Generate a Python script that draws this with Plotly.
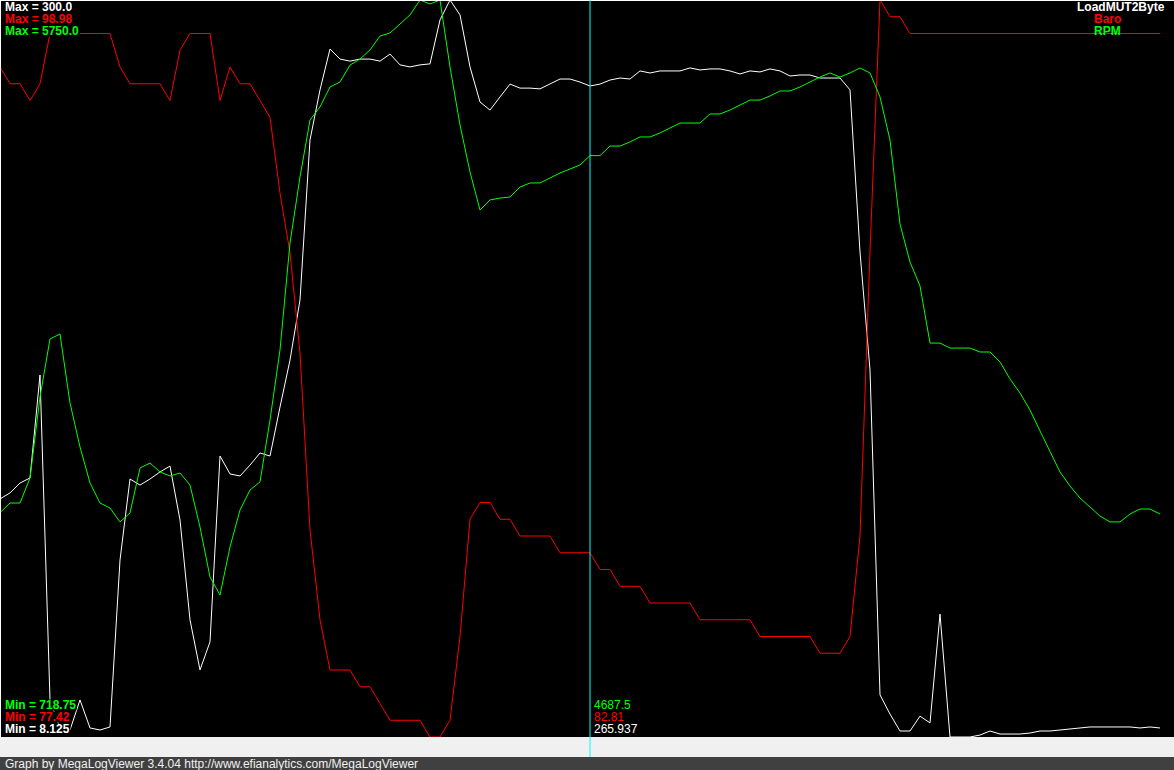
import plotly.graph_objects as go

# ---- data (one log sample every step) ----
sample = list(range(117))

load_mut2byte = [
    102.4, 104.8, 108.7, 110.7, 151.5, 22.8, 11.7, 10.9, 22.8, 11.7,
    10.9, 12.1, 78.2, 110.3, 107.9, 110.3, 113.1, 115.4, 94.1, 54.5,
    34.7, 45.8, 119.4, 112.3, 111.5, 115.8, 120.6, 119.4, 138.8, 157.4,
    181.2, 244.6, 264.4, 280.6, 276.6, 275.8, 276.6, 276.6, 275.8, 278.6,
    274.3, 273.5, 274.3, 274.7, 292.1, 300.0, 294.1, 273.5, 259.6, 256.4,
    261.6, 266.7, 265.1, 265.1, 264.8, 266.7, 268.7, 268.7, 267.5, 265.937,
    266.7, 268.3, 269.1, 268.7, 271.9, 271.1, 271.9, 271.9, 271.9, 273.1,
    272.3, 272.7, 272.7, 271.9, 270.7, 271.9, 271.5, 272.7, 271.9, 269.9,
    270.3, 270.3, 269.1, 269.1, 269.1, 264.4, 200.2, 153.5, 24.8, 17.2,
    10.5, 10.5, 16.4, 13.7, 56.8, 8.125, 8.125, 8.125, 8.9, 10.5,
    9.3, 9.3, 9.3, 9.7, 10.5, 10.5, 10.9, 11.3, 11.7, 12.1,
    12.1, 12.1, 12.1, 12.1, 11.7, 12.1, 11.7,
]

baro = [
    97.02, 96.53, 96.53, 96.04, 96.53, 98.00, 98.00, 98.00, 98.00, 98.00,
    98.00, 98.00, 97.02, 96.53, 96.53, 96.53, 96.53, 96.04, 97.51, 98.00,
    98.00, 98.00, 96.04, 97.02, 96.53, 96.53, 96.04, 95.55, 93.33, 91.58,
    88.65, 83.48, 80.85, 79.38, 79.38, 79.38, 78.89, 78.89, 78.40, 77.91,
    77.91, 77.91, 77.91, 77.42, 77.42, 77.91, 80.36, 83.79, 84.28, 84.28,
    83.79, 83.79, 83.30, 83.30, 83.30, 83.30, 82.81, 82.81, 82.81, 82.81,
    82.32, 82.32, 81.83, 81.83, 81.83, 81.34, 81.34, 81.34, 81.34, 81.34,
    80.85, 80.85, 80.85, 80.85, 80.85, 80.85, 80.36, 80.36, 80.36, 80.36,
    80.36, 80.36, 79.87, 79.87, 79.87, 80.36, 83.30, 91.63, 98.98, 98.49,
    98.49, 98.00, 98.00, 98.00, 98.00, 98.00, 98.00, 98.00, 98.00, 98.00,
    98.00, 98.00, 98.00, 98.00, 98.00, 98.00, 98.00, 98.00, 98.00, 98.00,
    98.00, 98.00, 98.00, 98.00, 98.00, 98.00, 98.00,
]

rpm = [
    2250, 2316, 2316, 2487, 3040, 3436, 3470, 2999, 2699, 2453,
    2316, 2282, 2187, 2248, 2555, 2589, 2528, 2501, 2521, 2439,
    2152, 1811, 1688, 2016, 2268, 2405, 2460, 2883, 3361, 4091,
    4542, 4931, 5020, 5156, 5190, 5306, 5347, 5409, 5504, 5525,
    5586, 5648, 5750, 5723, 5750, 5293, 4897, 4576, 4316, 4385,
    4398, 4405, 4473, 4501, 4501, 4535, 4569, 4596, 4624, 4687.5,
    4688, 4753, 4753, 4781, 4815, 4815, 4842, 4876, 4910, 4910,
    4910, 4972, 4972, 4999, 5033, 5067, 5067, 5095, 5129, 5129,
    5156, 5190, 5224, 5252, 5224, 5252, 5286, 5252, 5088, 4794,
    4221, 3961, 3798, 3408, 3408, 3374, 3374, 3374, 3347, 3347,
    3279, 3163, 3067, 2951, 2808, 2664, 2528, 2432, 2350, 2289,
    2227, 2187, 2187, 2241, 2275, 2275, 2241,
]

series_names = ["LoadMUT2Byte", "Baro", "RPM"]
load_range = [8.125, 300.0]
baro_range = [77.42, 98.98]
rpm_range = [718.75, 5750.0]
cursor_index = 59
cursor_texts = ["4687.5", "82.81", "265.937"]
footer = "Graph by MegaLogViewer 3.4.04 http://www.efianalytics.com/MegaLogViewer"

# ---- figure ----
W, H = 1174, 770
PLOT_H = 737
FOOT_H = 13
WHITE, RED, GREEN, CYAN = "#ffffff", "#ff0000", "#00ff00", "#00ffff"
FONT = "Liberation Sans, Arial, sans-serif"

fig = go.Figure()
fig.add_trace(go.Scatter(x=sample, y=rpm, yaxis="y3", mode="lines",
                         line=dict(color=GREEN, width=1), name=series_names[2]))
fig.add_trace(go.Scatter(x=sample, y=baro, yaxis="y2", mode="lines",
                         line=dict(color=RED, width=1), name=series_names[1]))
fig.add_trace(go.Scatter(x=sample, y=load_mut2byte, yaxis="y", mode="lines",
                         line=dict(color=WHITE, width=1), name=series_names[0]))

dom = [(H - PLOT_H) / H, 1]
hidden = dict(visible=False, showgrid=False, zeroline=False, fixedrange=True)
fig.update_layout(
    width=W, height=H,
    margin=dict(l=0, r=0, t=0, b=0, pad=0),
    paper_bgcolor="#f0f0f0", plot_bgcolor="#000000",
    showlegend=False,
    xaxis=dict(range=[0, W / 10.0], **hidden),
    yaxis=dict(range=load_range, domain=dom, **hidden),
    yaxis2=dict(range=baro_range, overlaying="y", **hidden),
    yaxis3=dict(range=rpm_range, overlaying="y", **hidden),
)


def px(x):
    return x / W


def py(y):
    return 1 - y / H


shapes = [
    # footer bar
    dict(type="rect", xref="paper", yref="paper", x0=0, x1=1, y0=0, y1=FOOT_H / H,
         fillcolor="#404040", line=dict(width=0), layer="below"),
    # plot border (top / left)
    dict(type="line", xref="paper", yref="paper", x0=0, x1=1, y0=py(0.5), y1=py(0.5),
         line=dict(color=WHITE, width=1)),
    dict(type="line", xref="paper", yref="paper", x0=px(0.5), x1=px(0.5), y0=py(PLOT_H), y1=1,
         line=dict(color=WHITE, width=1)),
    # cursor
    dict(type="line", xref="x", yref="paper", x0=cursor_index, x1=cursor_index,
         y0=FOOT_H / H, y1=1, line=dict(color=CYAN, width=1)),
]
fig.update_layout(shapes=shapes)

ann = []


def label(text, x, y, color, anchor="left", bold=True, bg=None, size=12):
    d = dict(text=("<b>%s</b>" % text) if bold else text, x=px(x), y=py(y),
             xref="paper", yref="paper", xanchor=anchor, yanchor="middle",
             showarrow=False, borderpad=0,
             font=dict(family=FONT, size=size, color=color))
    if bg:
        d["bgcolor"] = bg
        d["height"] = 10
        d["valign"] = "middle"
    ann.append(d)


# max labels (top-left)
label("Max = %.1f" % load_range[1], 4, 7, WHITE, bg="#000000")
label("Max = %.2f" % baro_range[1], 4, 18.5, RED, bg="#000000")
label("Max = %.1f" % rpm_range[1], 4, 30.5, GREEN, bg="#000000")
# min labels (bottom-left)
label("Min = %.2f" % rpm_range[0], 4, 704.5, GREEN, bg="#000000")
label("Min = %.2f" % baro_range[0], 4, 716.5, RED, bg="#000000")
label("Min = %.3f" % load_range[0], 4, 728.5, WHITE, bg="#000000")
# series names (top-right)
label(series_names[0], 1166, 7, WHITE, anchor="right")
label(series_names[1], 1093, 18.5, RED)
label(series_names[2], 1093, 30.5, GREEN)
# cursor values
label(cursor_texts[0], 593, 704.5, GREEN, bold=False)
label(cursor_texts[1], 593, 716.5, RED, bold=False)
label(cursor_texts[2], 593, 728.5, WHITE, bold=False)
# footer
label(footer, 4, 763.5, "#f0f0f0", bold=False)

fig.update_layout(annotations=ann)

fig.write_html(
    "out.html",
    config={"displayModeBar": False},
    post_script="document.body.style.margin='0';document.body.style.padding='0';"
                "document.body.style.overflow='hidden';",
)
